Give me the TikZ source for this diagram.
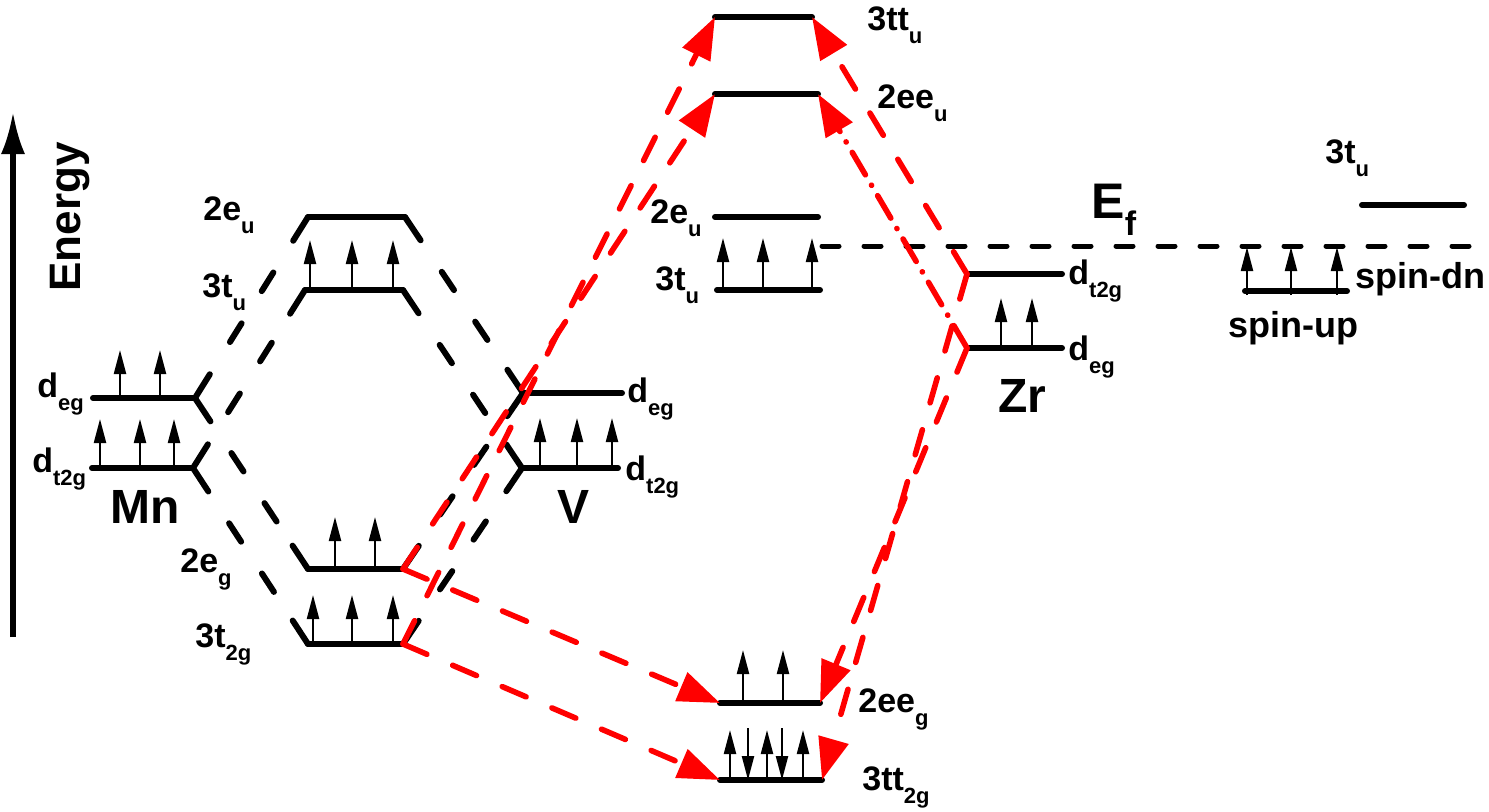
\documentclass[tikz,border=0pt]{standalone}
\usepackage{fontspec}
\setmainfont{Liberation Sans}
\usetikzlibrary{arrows.meta,calc}
\newcommand{\sbs}[1]{\raisebox{-6.5pt}{\fontsize{11}{11}\selectfont #1}}

\begin{document}
\begin{tikzpicture}[x=0.5pt,y=-0.5pt,
    level/.style={line width=3pt, line cap=round},
    link/.style={line width=3pt, line cap=round, dash pattern=on 11pt off 19pt, dash phase=11pt},
    redlink/.style={red, line width=2.8pt, line cap=round, dash pattern=on 13pt off 14pt, -{Triangle[length=21pt,width=15pt]}},
    dotlink/.style={redlink, dash pattern=on 13pt off 6pt on 0.1pt off 6pt},
    fermi/.style={line width=2.5pt, line cap=round, dash pattern=on 8.5pt off 12.5pt},
    spin/.style={line width=1.1pt, -{Triangle[length=12pt,width=6pt]}},
    lbl/.style={font=\fontsize{17}{17}\selectfont\bfseries, inner sep=0pt, anchor=base west},
    big/.style={font=\fontsize{24}{24}\selectfont\bfseries, inner sep=0pt, anchor=base west}]
    \useasboundingbox (0,0) rectangle (1489,811);

    % energy axis
    \coordinate (ax0) at (13,637);
    \coordinate (ax1) at (13,112);
    \draw[line width=2.6pt, -{Latex[length=21pt,width=12pt]}] (ax0) -- (ax1);
    \node[lbl, font=\fontsize{22}{22}\selectfont\bfseries, rotate=90] (lEnergy) at (80,292) {Energy};

    % Mn
    \coordinate (MnEgL) at (93,398);   \coordinate (MnEgR) at (195,398);
    \coordinate (MnTgL) at (92,468);   \coordinate (MnTgR) at (193,468);
    % Mn-V levels
    \coordinate (EuL) at (308,217);    \coordinate (EuR) at (405,217);
    \coordinate (TuL) at (305,290);    \coordinate (TuR) at (403,290);
    \coordinate (EgL) at (308,569);    \coordinate (EgR) at (403,569);
    \coordinate (TgL) at (308,644);    \coordinate (TgR) at (403,644);
    % V
    \coordinate (VEgL) at (523,393);   \coordinate (VEgR) at (622,393);
    \coordinate (VTgL) at (522,468);   \coordinate (VTgR) at (618,468);
    % centre
    \coordinate (CttuL) at (715,17);   \coordinate (CttuR) at (812,17);
    \coordinate (CeeuL) at (715,94);   \coordinate (CeeuR) at (818,94);
    \coordinate (CeuL) at (715,217);   \coordinate (CeuR) at (818,217);
    \coordinate (CtuL) at (717,290);   \coordinate (CtuR) at (820,290);
    \coordinate (CeegL) at (720,703);  \coordinate (CeegR) at (820,703);
    \coordinate (CttgL) at (720,780);  \coordinate (CttgR) at (822,780);
    % Zr
    \coordinate (ZrTL) at (967,274);   \coordinate (ZrTR) at (1062,274);
    \coordinate (ZrEL) at (967,348);   \coordinate (ZrER) at (1062,348);
    % right
    \coordinate (UpL) at (1245,291);   \coordinate (UpR) at (1347,291);
    \coordinate (RtuL) at (1362,205);  \coordinate (RtuR) at (1464,205);
    \coordinate (EfL) at (822,246);    \coordinate (EfR) at (1489,246);

    \foreach \a/\b in {MnEgL/MnEgR, MnTgL/MnTgR, EuL/EuR, TuL/TuR, EgL/EgR, TgL/TgR,
        VEgL/VEgR, VTgL/VTgR, CttuL/CttuR, CeeuL/CeeuR, CeuL/CeuR, CtuL/CtuR,
        CeegL/CeegR, CttgL/CttgR, ZrTL/ZrTR, ZrEL/ZrER, UpL/UpR, RtuL/RtuR}
        \draw[level] (\a) -- (\b);
    \draw[fermi] (EfL) -- (EfR);

    % black correlation lines, solid at both ends
    \foreach \a/\b in {MnEgR/EuL, MnEgR/EgL, MnTgR/TuL, MnTgR/TgL,
        EuR/VEgL, TuR/VTgL, EgR/VEgL, TgR/VTgL} {
        \draw[level] (\a) -- ($(\a)!14pt!(\b)$);
        \draw[level] (\b) -- ($(\b)!14pt!(\a)$);
        \draw[link] ($(\a)!14pt!(\b)$) -- ($(\b)!14pt!(\a)$);
    }

    % red hybridisation lines
    \draw[redlink] (EgR) -- (CeeuL);
    \draw[redlink] (EgR) -- (CeegL);
    \draw[redlink] (TgR) -- (CttuL);
    \draw[redlink] (TgR) -- (CttgL);
    \draw[redlink] (ZrTL) -- (CttuR);
    \draw[redlink] (ZrTL) -- (CttgR);
    \draw[dotlink] (ZrEL) -- (CeeuR);
    \draw[redlink] (ZrEL) -- (CeegR);

    % electrons
    \foreach \x in {120,160} \draw[spin] (\x,398) -- (\x,350);
    \foreach \x in {100,140,174} \draw[spin] (\x,468) -- (\x,419);
    \foreach \x in {310,352,393} \draw[spin] (\x,290) -- (\x,240);
    \foreach \x in {335,375} \draw[spin] (\x,569) -- (\x,517);
    \foreach \x in {313,352,393} \draw[spin] (\x,644) -- (\x,595);
    \foreach \x in {540,577,612} \draw[spin] (\x,468) -- (\x,418);
    \foreach \x in {723,763,812} \draw[spin] (\x,290) -- (\x,238);
    \foreach \x in {743,783} \draw[spin] (\x,703) -- (\x,650);
    \foreach \x in {730,767,803} \draw[spin] (\x,780) -- (\x,730);
    \foreach \x in {748,782} \draw[spin] (\x,728) -- (\x,780);
    \foreach \x in {1001,1032} \draw[spin] (\x,348) -- (\x,298);
    \foreach \x in {1247,1291,1337} \draw[spin] (\x,295) -- (\x,247);

    % labels
    \node[lbl] (lEuL) at (203,220) {2e\sbs{u}};
    \node[lbl] (lTuL) at (202,297) {3t\sbs{u}};
    \node[lbl] (lMnEg) at (37,397) {d\sbs{eg}};
    \node[lbl] (lMnTg) at (32,472) {d\sbs{t2g}};
    \node[big] (lMn) at (110,523) {Mn};
    \node[lbl] (lEgL) at (180,572) {2e\sbs{g}};
    \node[lbl] (lTgL) at (195,647) {3t\sbs{2g}};
    \node[big] (lV) at (557,523) {V};
    \node[lbl] (lVEg) at (627,402) {d\sbs{eg}};
    \node[lbl] (lVTg) at (625,480) {d\sbs{t2g}};
    \node[lbl] (lCttu) at (867,30) {3tt\sbs{u}};
    \node[lbl] (lCeeu) at (877,108) {2ee\sbs{u}};
    \node[lbl] (lCeu) at (650,223) {2e\sbs{u}};
    \node[lbl] (lCtu) at (655,290) {3t\sbs{u}};
    \node[lbl] (lCeeg) at (858,712) {2ee\sbs{g}};
    \node[lbl] (lCttg) at (862,790) {3tt\sbs{2g}};
    \node[lbl, font=\fontsize{25}{25}\selectfont\bfseries] (lEf) at (1091,218)
        {E\raisebox{-8.5pt}{\fontsize{17}{17}\selectfont f}};
    \node[lbl] (lZrT) at (1068,284) {d\sbs{t2g}};
    \node[lbl] (lZrE) at (1068,360) {d\sbs{eg}};
    \node[big] (lZr) at (998,412) {Zr};
    \node[lbl, font=\fontsize{18}{18}\selectfont\bfseries] (lUp) at (1228,337) {spin-up};
    \node[lbl, font=\fontsize{18}{18}\selectfont\bfseries] (lDn) at (1355,288) {spin-dn};
    \node[lbl] (lRtu) at (1325,163) {3t\sbs{u}};
\end{tikzpicture}
\end{document}
